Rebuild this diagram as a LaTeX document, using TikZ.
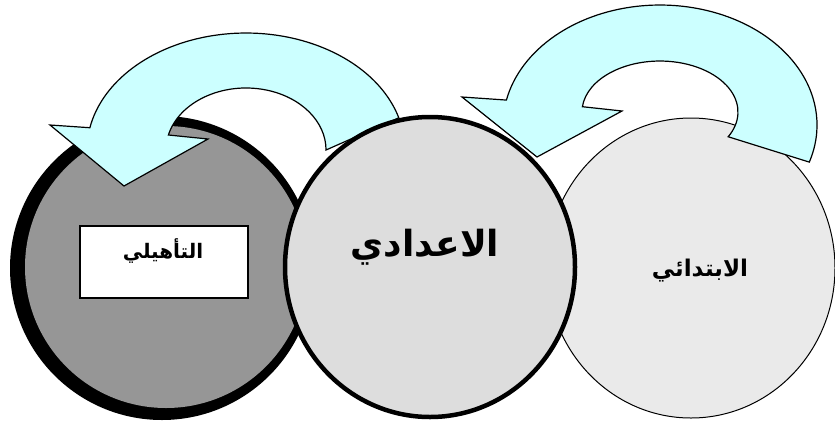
\documentclass[tikz,border=0pt]{standalone}
\usepackage{fontspec}
\usetikzlibrary{shapes.geometric}
\TeXXeTstate=1
\newfontfamily\arabicfont[Script=Arabic]{DejaVu Sans}
\definecolor{arrowfill}{HTML}{CCFFFF}
\definecolor{darkgray}{RGB}{150,150,150}
\definecolor{midgray}{RGB}{221,221,221}
\definecolor{lightgray}{RGB}{234,234,234}
\tikzset{
  curvedarrow/.style={draw=black, fill=arrowfill, line width=1.2pt, line join=miter},
  label text/.style={font=\arabicfont\bfseries, text=black, inner sep=0pt, anchor=base},
}
\begin{document}
\begin{tikzpicture}[x=1pt, y=1pt]
\useasboundingbox (0,0) rectangle (835,-426);
% right circle
\node[ellipse, draw=black, line width=1pt, fill=lightgray, minimum width=288pt, minimum height=300pt, inner sep=0pt] (right) at (691,-268) {};
% left circle with heavy shadow ring
\node[circle, fill=black, minimum size=304pt, inner sep=0pt] (leftshadow) at (162,-268) {};
\node[circle, fill=darkgray, minimum size=282pt, inner sep=0pt] (left) at (166,-267) {};
\node[rectangle, draw=black, line width=2pt, fill=white, minimum width=168pt, minimum height=72pt, inner sep=0pt] (box) at (164,-262) {};
% left curved arrow
\draw[curvedarrow] (398.8,-117.8)
  arc[start angle=16, end angle=169, x radius=159pt, y radius=117pt]
  -- (50,-125) -- (124,-186) -- (208,-139) -- (168.4,-135)
  arc[start angle=166, end angle=0, x radius=80pt, y radius=62pt]
  -- cycle;
% middle circle
\node[ellipse, draw=black, line width=4.5pt, fill=midgray, minimum width=290pt, minimum height=300pt, inner sep=0pt] (middle) at (430,-267) {};
% right curved arrow
\draw[curvedarrow] (809.3,-162.1)
  arc[start angle=-18, end angle=168, x radius=157pt, y radius=120pt]
  -- (462,-97) -- (537,-157) -- (622,-111) -- (582.4,-106.7)
  arc[start angle=174, end angle=-29, x radius=78pt, y radius=51pt]
  -- cycle;
% texts
\node[label text, font=\arabicfont\bfseries\fontsize{20pt}{22pt}\selectfont] (t1) at (163,-258) {\beginR التأهيلي\endR};
\node[label text, font=\arabicfont\bfseries\fontsize{36pt}{40pt}\selectfont] (t2) at (425,-256) {\beginR الاعدادي\endR};
\node[label text, font=\arabicfont\bfseries\fontsize{23pt}{26pt}\selectfont] (t3) at (700,-276) {\beginR الابتدائي\endR};
\end{tikzpicture}
\end{document}
